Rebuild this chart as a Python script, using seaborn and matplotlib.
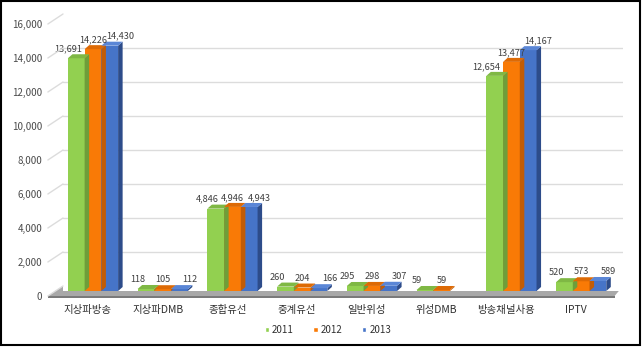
import matplotlib
matplotlib.use("Agg")
import matplotlib.pyplot as plt
from matplotlib.patches import Polygon, Rectangle
from matplotlib.lines import Line2D
import matplotlib.transforms as mtransforms
import numpy as np
import pandas as pd
import seaborn as sns

categories = ["지상파방송", "지상파DMB", "종합유선", "중계유선", "일반위성", "위성DMB", "방송채널사용", "IPTV"]
years = ["2011", "2012", "2013"]
values_2011 = [13691, 118, 4846, 260, 295, 59, 12654, 520]
values_2012 = [14226, 105, 4946, 204, 298, 59, 13477, 573]
values_2013 = [14430, 112, 4943, 166, 307, np.nan, 14167, 589]
yticks = [0, 2000, 4000, 6000, 8000, 10000, 12000, 14000, 16000]

front = {"2011": "#92D050", "2012": "#F97A06", "2013": "#4674C8"}
side = {"2011": "#6E9E3A", "2012": "#C25C05", "2013": "#2D4C8A"}
top = {"2011": "#7FB844", "2012": "#DD6A05", "2013": "#5A86D6"}

rows = []
for yr, vals in zip(years, [values_2011, values_2012, values_2013]):
    for c, v in zip(categories, vals):
        rows.append({"category": c, "year": yr, "value": v})
df = pd.DataFrame(rows)

sns.set_theme(style="white")
plt.rcParams["font.family"] = ["Noto Sans CJK KR", "DejaVu Sans"]

W, H = 643, 349
fig = plt.figure(figsize=(W / 100, H / 100), dpi=100)
ax = fig.add_axes([63 / W, 58 / H, 560 / W, 272 / H])

sns.barplot(data=df, x="category", y="value", hue="year", palette=front,
            order=categories, hue_order=years, width=0.72, dodge=True,
            saturation=1, linewidth=0, ax=ax, legend=False, zorder=3)

ax.set_ylim(0, 16000)
ax.set_xlim(-0.43, 7.6)
ax.set_yticks(yticks)
ax.set_yticklabels([f"{t:,}" for t in yticks], fontsize=7, color="#4A4A4A")
ax.tick_params(axis="y", length=0, pad=15)
ax.tick_params(axis="x", length=0, pad=10, labelsize=7.5, labelcolor="#303030")
ax.set_xlabel("")
ax.set_ylabel("")
for s in ax.spines.values():
    s.set_visible(False)

# tick labels sit on the front plane, gridlines on the back wall
down = mtransforms.ScaledTranslation(0, -5 / 100, fig.dpi_scale_trans)
up = mtransforms.ScaledTranslation(0, 5 / 100, fig.dpi_scale_trans)
for lab in ax.get_yticklabels():
    lab.set_transform(lab.get_transform() + down)
for lab in ax.get_xticklabels():
    lab.set_transform(lab.get_transform() + mtransforms.ScaledTranslation(-5 / 100, 0, fig.dpi_scale_trans))

blend = mtransforms.blended_transform_factory(ax.transAxes, ax.transData)
for t in yticks[1:]:
    ax.add_line(Line2D([0, 1], [t, t], transform=blend + up, color="#DCDCDC", lw=1.0, zorder=1))


def px(xa, yd, off):
    x, y = blend.transform((xa, yd))
    return x / W, (y + off) / H


# short oblique side-wall strokes joining the front edge to the back wall
for t in yticks:
    p0 = px(-0.027, t, -5)
    p1 = px(0.0, t, 5)
    fig.add_artist(Line2D([p0[0], p1[0]], [p0[1], p1[1]], transform=fig.transFigure,
                          color="#DCDCDC", lw=1.0))

# gray floor under the bars
fig.add_artist(Polygon([px(-0.027, 0, -5), px(0.985, 0, -5), px(1.0, 0, 5), px(0.0, 0, 5)],
                       closed=True, transform=fig.transFigure, facecolor="#A8A8A8",
                       edgecolor="none", zorder=0))
fig.add_artist(Polygon([px(-0.027, 0, -5), px(0.985, 0, -5), px(0.985, 0, -7), px(-0.027, 0, -7)],
                       closed=True, transform=fig.transFigure, facecolor="#7A7A7A", edgecolor="none"))

# depth of the extruded faces in data units
dx = 0.065
dy = 16000 / 272 * 4

offsets = {"2011": -0.12, "2012": 0.0, "2013": 0.15}
for container, yr in zip(ax.containers, years):
    for bar in container.patches:
        h = bar.get_height()
        if np.isnan(h):
            continue
        x0 = bar.get_x()
        w = bar.get_width()
        ax.add_patch(Polygon([(x0 + w, 0), (x0 + w + dx, dy), (x0 + w + dx, h + dy), (x0 + w, h)],
                             closed=True, facecolor=side[yr], edgecolor="none", zorder=3))
        ax.add_patch(Polygon([(x0, h), (x0 + w, h), (x0 + w + dx, h + dy), (x0 + dx, h + dy)],
                             closed=True, facecolor=top[yr], edgecolor="none", zorder=3))
        ax.text(x0 + w / 2 + offsets[yr], h + dy + 60, f"{int(round(h)):,}", ha="center", va="bottom",
                fontsize=6.6, color="#404040", zorder=4)

handles = [Rectangle((0, 0), 1, 1, facecolor=front[y]) for y in years]
fig.legend(handles, years, loc="lower center", ncol=3, frameon=False, fontsize=7,
           bbox_to_anchor=(0.51, 0.015), handlelength=0.45, handleheight=0.45,
           columnspacing=2.0, handletextpad=0.3, labelcolor="#303030")

fig.patches.append(Rectangle((0.002, 0.012), 0.993, 0.984, transform=fig.transFigure,
                             fill=False, edgecolor="black", lw=1.5))

fig.savefig("out.png", dpi=100)
